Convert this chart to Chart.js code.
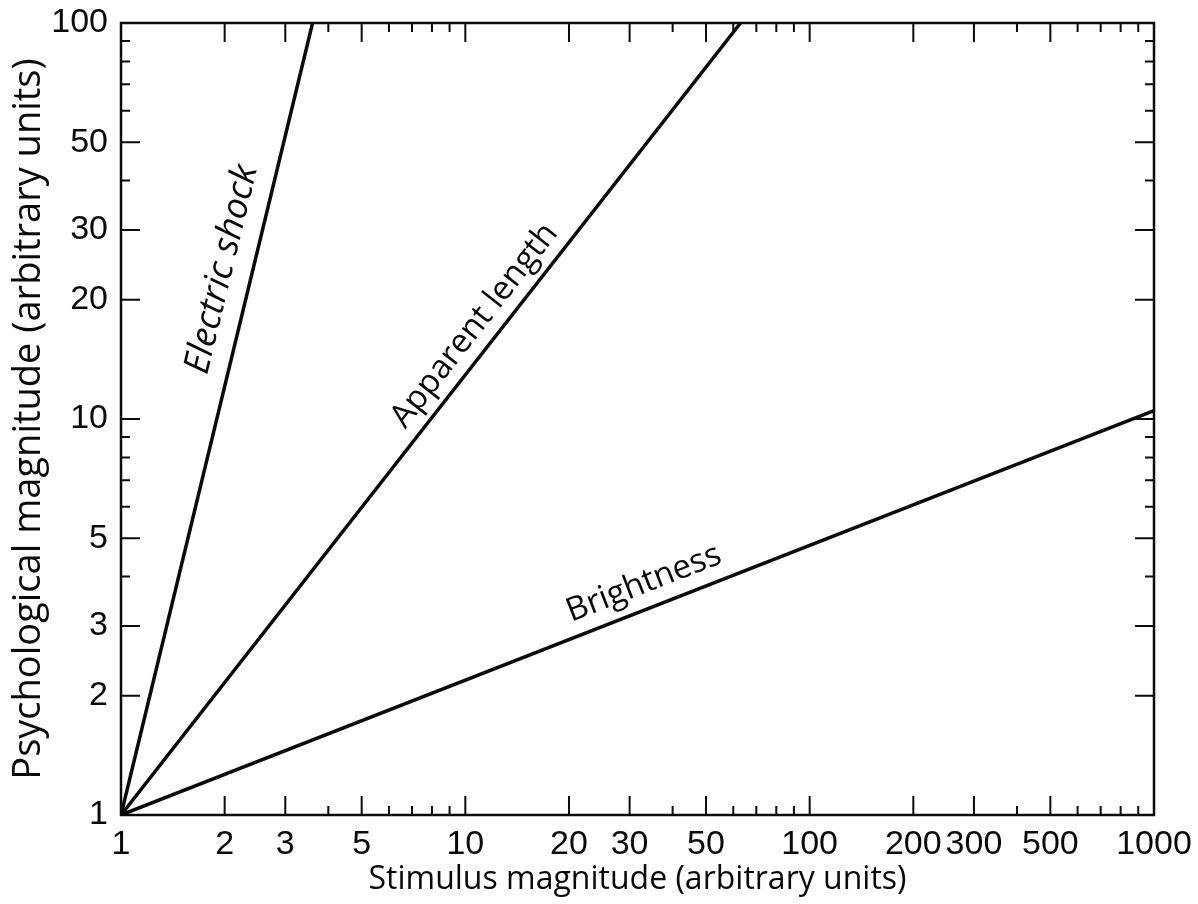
<!DOCTYPE html>
<html>
<head>
<meta charset="utf-8">
<script src="https://cdn.jsdelivr.net/npm/chart.js@4"></script>
<style>
  body { margin: 0; background: #fff; }
  #wrap { width: 1198px; height: 904px; }
</style>
</head>
<body>
<div id="wrap"><canvas id="chart"></canvas></div>
<script>
// end points of each power-law line (log-log, so two points are enough)
const seriesNames = ["Electric shock", "Apparent length", "Brightness"];
const stimulus = [[1, 3.6], [1, 63], [1, 1000]];
const magnitude = [[1, 100], [1, 100], [1, 10.5]];

// labelled ticks and the small unlabelled ones
const xTickLabels = [1, 2, 3, 5, 10, 20, 30, 50, 100, 200, 300, 500, 1000];
const yTickLabels = [1, 2, 3, 5, 10, 20, 30, 50, 100];
const xMinorTicks = [4, 6, 7, 8, 9, 40, 60, 70, 80, 90, 400, 600, 700, 800, 900];
const yMinorTicks = [4, 6, 7, 8, 9, 40, 60, 70, 80, 90];

const INK = "#0a0a0a";
const tickFont = { family: "'Liberation Sans Narrow', 'Arial Narrow', sans-serif", size: 34 };

// where each name sits along its line (fraction of the line, px away from it)
const lineLabels = [
  { along: 0.68, offset: 30, size: 36, italic: true },
  { along: 0.60, offset: 23, size: 33, italic: false },
  { along: 0.515, offset: 25, size: 33, italic: false },
];

const datasets = seriesNames.map((name, i) => ({
  label: name,
  data: stimulus[i].map((x, j) => ({ x: x, y: magnitude[i][j] })),
  showLine: true,
  borderColor: INK,
  borderWidth: 3.5,
  pointRadius: 0,
  fill: false,
}));

// frame with inward ticks on all four sides
const framePlugin = {
  id: "frame",
  afterDatasetsDraw(chart) {
    const { ctx, chartArea: a, scales } = chart;
    ctx.save();
    ctx.strokeStyle = INK;
    ctx.lineWidth = 2;
    ctx.beginPath();
    const tickX = (vals, len) => {
      vals.forEach((v) => {
        const px = scales.x.getPixelForValue(v);
        ctx.moveTo(px, a.bottom); ctx.lineTo(px, a.bottom - len);
        ctx.moveTo(px, a.top); ctx.lineTo(px, a.top + len);
      });
    };
    const tickY = (vals, len) => {
      vals.forEach((v) => {
        const py = scales.y.getPixelForValue(v);
        ctx.moveTo(a.left, py); ctx.lineTo(a.left + len, py);
        ctx.moveTo(a.right, py); ctx.lineTo(a.right - len, py);
      });
    };
    tickX(xTickLabels, 19);
    tickX(xMinorTicks, 9);
    tickY(yTickLabels, 19);
    tickY(yMinorTicks, 9);
    ctx.stroke();
    ctx.lineWidth = 2.5;
    ctx.strokeRect(a.left, a.top, a.right - a.left, a.bottom - a.top);
    ctx.restore();
  },
};

// names written along the lines
const lineLabelPlugin = {
  id: "lineLabels",
  afterDatasetsDraw(chart) {
    const ctx = chart.ctx;
    ctx.save();
    ctx.fillStyle = INK;
    ctx.textAlign = "center";
    ctx.textBaseline = "middle";
    lineLabels.forEach((lab, i) => {
      const pts = chart.getDatasetMeta(i).data;
      const p0 = pts[0], p1 = pts[pts.length - 1];
      const dx = p1.x - p0.x, dy = p1.y - p0.y;
      const len = Math.hypot(dx, dy);
      const nx = dy / len, ny = -dx / len;
      const cx = p0.x + dx * lab.along + nx * lab.offset;
      const cy = p0.y + dy * lab.along + ny * lab.offset;
      ctx.font = (lab.italic ? "italic " : "") + lab.size + "px 'Open Sans', sans-serif";
      ctx.translate(cx, cy);
      ctx.rotate(Math.atan2(dy, dx));
      ctx.fillText(seriesNames[i], 0, 0);
      ctx.setTransform(1, 0, 0, 1, 0, 0);
    });
    ctx.restore();
  },
};

const labelTicks = (list) => (scale) => {
  scale.ticks = list.map((v) => ({ value: v }));
};

new Chart(document.getElementById("chart"), {
  type: "scatter",
  data: { datasets: datasets },
  options: {
    responsive: true,
    maintainAspectRatio: false,
    animation: false,
    layout: { padding: { top: 23, right: 44, left: 0, bottom: 0 } },
    plugins: { legend: { display: false }, tooltip: { enabled: false } },
    scales: {
      x: {
        type: "logarithmic",
        min: 1,
        max: 1000,
        afterBuildTicks: labelTicks(xTickLabels),
        afterFit: (scale) => {
          scale.height = 89;
          scale.paddingLeft = 0;
          scale.paddingRight = 0;
        },
        grid: { display: false, drawTicks: false },
        border: { display: false },
        ticks: {
          autoSkip: false,
          maxRotation: 0,
          padding: 9,
          color: INK,
          font: tickFont,
          callback: (v) => String(v),
        },
        title: {
          display: true,
          text: "Stimulus magnitude (arbitrary units)",
          color: INK,
          font: { family: "'Open Sans', sans-serif", size: 32 },
          padding: { top: 0, bottom: 5 },
        },
      },
      y: {
        type: "logarithmic",
        min: 1,
        max: 100,
        afterBuildTicks: labelTicks(yTickLabels),
        afterFit: (scale) => {
          scale.width = 121;
          scale.paddingTop = 0;
          scale.paddingBottom = 0;
        },
        grid: { display: false, drawTicks: false },
        border: { display: false },
        ticks: {
          autoSkip: false,
          padding: 13,
          color: INK,
          font: tickFont,
          callback: (v) => String(v),
        },
        title: {
          display: true,
          text: "Psychological magnitude (arbitrary units)",
          color: INK,
          font: { family: "'Open Sans', sans-serif", size: 38 },
          padding: { top: 6, bottom: 0 },
        },
      },
    },
  },
  plugins: [framePlugin, lineLabelPlugin],
});
</script>
</body>
</html>
